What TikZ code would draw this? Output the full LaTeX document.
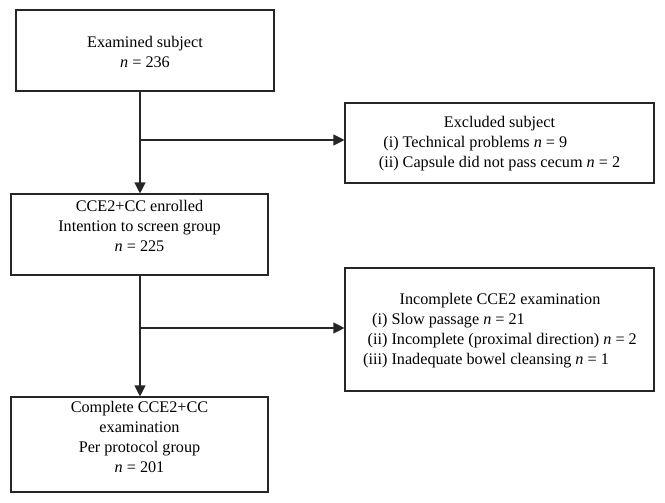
\documentclass[tikz,border=0pt]{standalone}
\usepackage{fontspec}
\setmainfont{Liberation Serif}
\usetikzlibrary{arrows.meta}
\newcommand{\nn}{\textit{n}}
\begin{document}
\begin{tikzpicture}[x=1pt,y=-1pt,
  box/.style={draw=black!85,line width=1.1pt,inner sep=0pt},
  txt/.style={inner sep=0pt,align=center,font=\fontsize{16.2}{20}\selectfont},
  conn/.style={draw=black!85,line width=1.1pt},
  arr/.style={conn,-{Triangle[length=11pt,width=11pt]}}]
\useasboundingbox (0,0) rectangle (665,503);
\node[box,minimum width=258pt,minimum height=81pt] (b1) at (145,50.5) {};
\node[txt] (t1) at (145,52) {Examined subject\\ \nn{} = 236};
\node[box,minimum width=309pt,minimum height=80pt] (b2) at (499.5,143) {};
\node[txt] (t2) at (499.5,143.5)
  {\begin{tabular}{@{}r@{\ }l@{}}\multicolumn{2}{c}{Excluded subject}\\
   (i) & Technical problems \nn{} = 9\\ (ii) & Capsule did not pass cecum \nn{} = 2\end{tabular}};
\node[box,minimum width=257pt,minimum height=81pt] (b3) at (139.5,234.5) {};
\node[txt] (t3) at (139.5,226) {CCE2+CC enrolled\\ Intention to screen group\\ \nn{} = 225};
\node[box,minimum width=309pt,minimum height=123pt] (b4) at (499.5,329.5) {};
\node[txt] (t4) at (500,330)
  {\begin{tabular}{@{}r@{\ }l@{}}\multicolumn{2}{c}{Incomplete CCE2 examination}\\
   (i) & Slow passage \nn{} = 21\\ (ii) & Incomplete (proximal direction) \nn{} = 2\\
   (iii) & Inadequate bowel cleansing \nn{} = 1\end{tabular}};
\node[box,minimum width=257pt,minimum height=95pt] (b5) at (139.5,444.5) {};
\node[txt] (t5) at (139.5,436.5) {Complete CCE2+CC\\ examination\\ Per protocol group\\ \nn{} = 201};
\coordinate (j1) at (140,140);
\coordinate (j2) at (140,328);
\draw[arr] (b1.south -| j1) -- (b3.north -| j1);
\draw[arr] (j1) -- (j1 -| b2.west);
\draw[arr] (b3.south -| j2) -- (b5.north -| j2);
\draw[arr] (j2) -- (j2 -| b4.west);
\end{tikzpicture}
\end{document}
